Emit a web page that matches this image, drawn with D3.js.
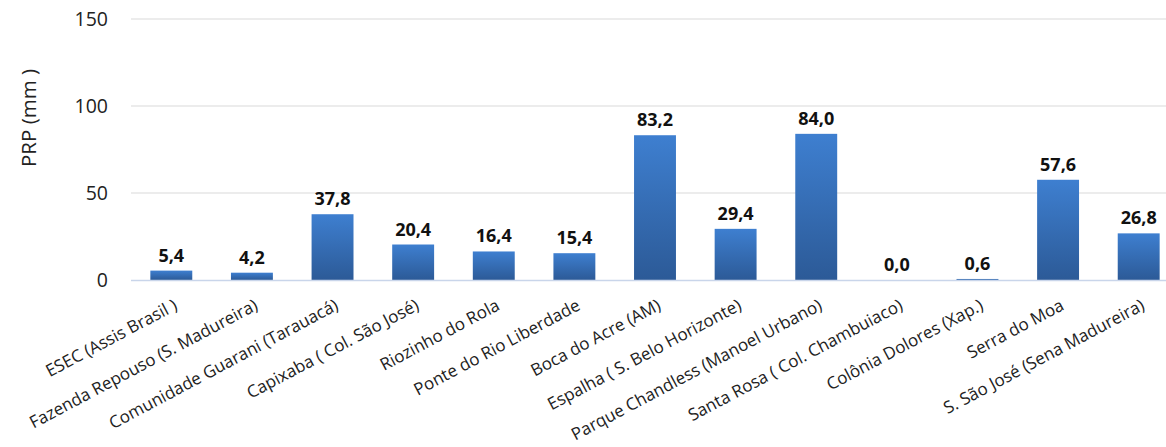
<!DOCTYPE html>
<html>
<head>
<meta charset="utf-8">
<script src="https://cdn.jsdelivr.net/npm/d3@7"></script>
<style>
  body { margin: 0; background: #fff; }
  svg { display: block; font-family: "Open Sans", "Liberation Sans", sans-serif; }
</style>
</head>
<body>
<div id="chart"></div>
<script>
// stations and precipitation (mm)
const stations = [
  "ESEC (Assis Brasil )",
  "Fazenda Repouso (S. Madureira)",
  "Comunidade Guarani (Tarauacá)",
  "Capixaba ( Col. São José)",
  "Riozinho do Rola",
  "Ponte do Rio Liberdade",
  "Boca do Acre (AM)",
  "Espalha ( S. Belo Horizonte)",
  "Parque Chandless (Manoel Urbano)",
  "Santa Rosa ( Col. Chambuiaco)",
  "Colônia Dolores (Xap.)",
  "Serra do Moa",
  "S. São José (Sena Madureira)"
];
const prp = [5.4, 4.2, 37.8, 20.4, 16.4, 15.4, 83.2, 29.4, 84.0, 0.0, 0.6, 57.6, 26.8];
const yTicks = [0, 50, 100, 150];

const width = 1166, height = 447;
const config = { left: 131, right: 1179, top: 19, bottom: 280 };

const svg = d3.select("#chart")
  .append("svg")
  .attr("width", width)
  .attr("height", height);

const defs = svg.append("defs");
const grad = defs.append("linearGradient")
  .attr("id", "barGrad")
  .attr("x1", 0).attr("y1", 0).attr("x2", 0).attr("y2", 1);
grad.append("stop").attr("offset", "0%").attr("stop-color", "#3e7fd0");
grad.append("stop").attr("offset", "100%").attr("stop-color", "#2c5a97");

const xScale = d3.scaleBand()
  .domain(stations)
  .range([config.left, config.right])
  .paddingInner(0.48)
  .paddingOuter(0.24);

const yScale = d3.scaleLinear()
  .domain([0, 150])
  .range([config.bottom, config.top]);

// gridlines
svg.append("g")
  .selectAll("line")
  .data(yTicks.filter(d => d > 0))
  .join("line")
  .attr("x1", config.left)
  .attr("x2", width)
  .attr("y1", d => yScale(d))
  .attr("y2", d => yScale(d))
  .attr("stroke", "#d9d9d9")
  .attr("stroke-width", 1.2);

// y axis labels
const yAxis = d3.axisLeft(yScale).tickValues(yTicks).tickSize(0).tickPadding(0);
svg.append("g")
  .attr("transform", "translate(108,0)")
  .call(yAxis)
  .call(g => g.select(".domain").remove())
  .selectAll("text")
  .attr("font-family", "'Open Sans', sans-serif")
  .attr("font-size", "19.5px")
  .attr("fill", "#222");

svg.append("text")
  .attr("transform", "translate(36,118)rotate(-90)")
  .attr("text-anchor", "middle")
  .attr("font-size", "20.5px")
  .attr("fill", "#222")
  .text("PRP (mm )");

// bars
svg.append("g")
  .selectAll("rect")
  .data(prp)
  .join("rect")
  .attr("x", (d, i) => xScale(stations[i]))
  .attr("width", xScale.bandwidth())
  .attr("y", d => yScale(d))
  .attr("height", d => config.bottom - yScale(d))
  .attr("fill", "url(#barGrad)");

// baseline
svg.append("line")
  .attr("x1", config.left)
  .attr("x2", width)
  .attr("y1", config.bottom + 0.5)
  .attr("y2", config.bottom + 0.5)
  .attr("stroke", "#c9d5ea")
  .attr("stroke-width", 1.5);

// value labels
svg.append("g")
  .selectAll("text")
  .data(prp)
  .join("text")
  .attr("x", (d, i) => xScale(stations[i]) + xScale.bandwidth() / 2)
  .attr("y", d => yScale(d) - 9)
  .attr("text-anchor", "middle")
  .attr("font-size", "18px")
  .attr("font-weight", "bold")
  .attr("fill", "#111")
  .text(d => d3.format(".1f")(d).replace(".", ","));

// category labels
const xAxis = d3.axisBottom(xScale).tickSize(0).tickPadding(0);
svg.append("g")
  .attr("transform", `translate(0,${config.bottom})`)
  .call(xAxis)
  .call(g => g.select(".domain").remove())
  .selectAll("text")
  .attr("font-family", "'Open Sans', sans-serif")
  .attr("font-size", "17px")
  .attr("fill", "#222")
  .attr("text-anchor", "end")
  .attr("y", 0)
  .attr("dy", 0)
  .attr("transform", "translate(7,29)rotate(-28)");
</script>
</body>
</html>
